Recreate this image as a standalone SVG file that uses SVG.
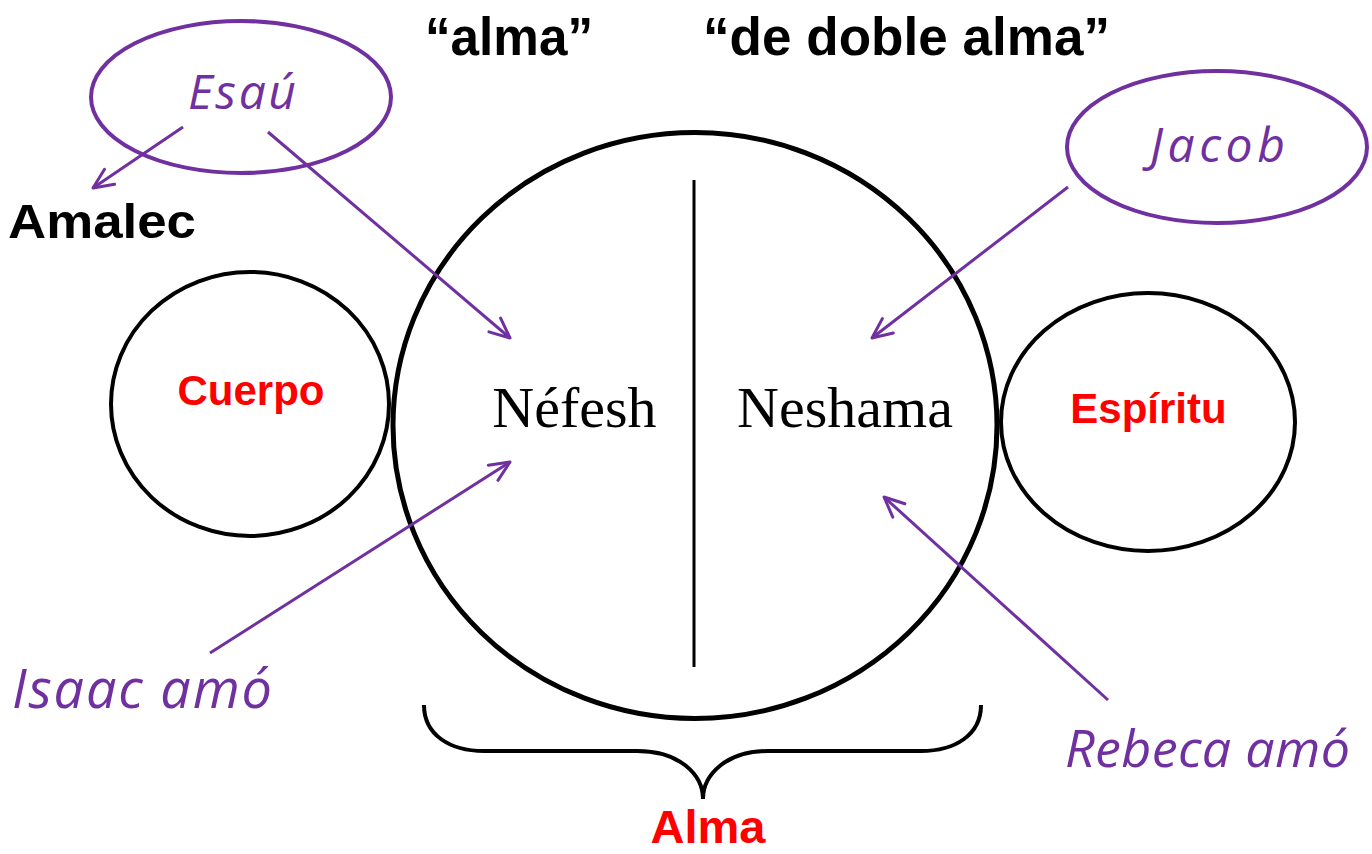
<svg xmlns="http://www.w3.org/2000/svg" width="1372" height="854" viewBox="0 0 1372 854">
<style>
.blk{fill:none;stroke:#000;}
.pur{fill:none;stroke:#7030A0;stroke-width:4;}
.con{stroke:#7030A0;stroke-width:3;fill:none;marker-end:url(#ah);}
.hand{font-family:"Open Sans","Lato",sans-serif;font-style:italic;font-weight:400;fill:#7030A0;}
.red{font-family:"Liberation Sans",Arial,sans-serif;font-weight:bold;fill:#FF0000;}
.bold{font-family:"Liberation Sans",Arial,sans-serif;font-weight:bold;fill:#000;}
.serif{font-family:"Liberation Serif","Times New Roman",serif;fill:#000;font-size:58px;}
</style>
<defs>
<marker id="ah" markerUnits="userSpaceOnUse" markerWidth="30" markerHeight="30" refX="22" refY="11" orient="auto" viewBox="0 0 30 22">
<path d="M2,2 L22,11 L2,20" fill="none" stroke="#7030A0" stroke-width="3" stroke-linecap="round" stroke-linejoin="round"/>
</marker>
</defs>
<rect width="1372" height="854" fill="#fff"/>
<g id="top-labels">
<text class="bold" x="425" y="55" font-size="54" textLength="168" lengthAdjust="spacingAndGlyphs">“alma”</text>
<text class="bold" x="703" y="55" font-size="54" textLength="407" lengthAdjust="spacingAndGlyphs">“de doble alma”</text>
</g>
<g id="alma">
<ellipse class="blk" cx="695" cy="425.5" rx="302" ry="293" stroke-width="5"/>
<line x1="694" y1="180" x2="694" y2="667" stroke="#000" stroke-width="3"/>
<text class="serif" x="574.5" y="427" text-anchor="middle">Néfesh</text>
<text class="serif" x="845" y="427" text-anchor="middle">Neshama</text>
</g>
<g id="cuerpo">
<ellipse class="blk" cx="250" cy="404" rx="139" ry="132" stroke-width="4"/>
<text class="red" x="251" y="405" font-size="42" text-anchor="middle">Cuerpo</text>
</g>
<g id="espiritu">
<ellipse class="blk" cx="1148" cy="422" rx="147" ry="129" stroke-width="4"/>
<text class="red" x="1148.5" y="423" font-size="42" text-anchor="middle">Espíritu</text>
</g>
<g id="esau">
<ellipse class="pur" cx="241" cy="97" rx="150" ry="76"/>
<text class="hand" x="188" y="109" font-size="48" textLength="108" lengthAdjust="spacing">Esaú</text>
</g>
<g id="jacob">
<ellipse class="pur" cx="1217" cy="147" rx="150" ry="76"/>
<text class="hand" x="1150" y="162" font-size="48" textLength="135" lengthAdjust="spacing">Jacob</text>
</g>
<g id="amalec">
<text class="bold" x="8" y="238" font-size="48" textLength="188" lengthAdjust="spacingAndGlyphs">Amalec</text>
</g>
<g id="isaac">
<text class="hand" x="12" y="708" font-size="54" textLength="260" lengthAdjust="spacing">Isaac amó</text>
</g>
<g id="rebeca">
<text class="hand" x="1065" y="767" font-size="52" textLength="285" lengthAdjust="spacing">Rebeca amó</text>
</g>
<g id="brace">
<path class="blk" stroke-width="4" d="M424,705 C424,735 450,751 484,751 L637,751 C680,751 703,775 703,799 C703,775 726,751 768,751 L921,751 C955,751 981,735 981,705"/>
<text class="red" x="708" y="843" font-size="46" text-anchor="middle" textLength="115" lengthAdjust="spacingAndGlyphs">Alma</text>
</g>
<g id="connectors">
<line class="con" x1="183" y1="127" x2="93" y2="188"/>
<line class="con" x1="268" y1="132" x2="510" y2="338"/>
<line class="con" x1="1068" y1="187" x2="872" y2="338"/>
<line class="con" x1="210" y1="653" x2="510" y2="462"/>
<line class="con" x1="1108" y1="700" x2="884" y2="497"/>
</g>
</svg>
